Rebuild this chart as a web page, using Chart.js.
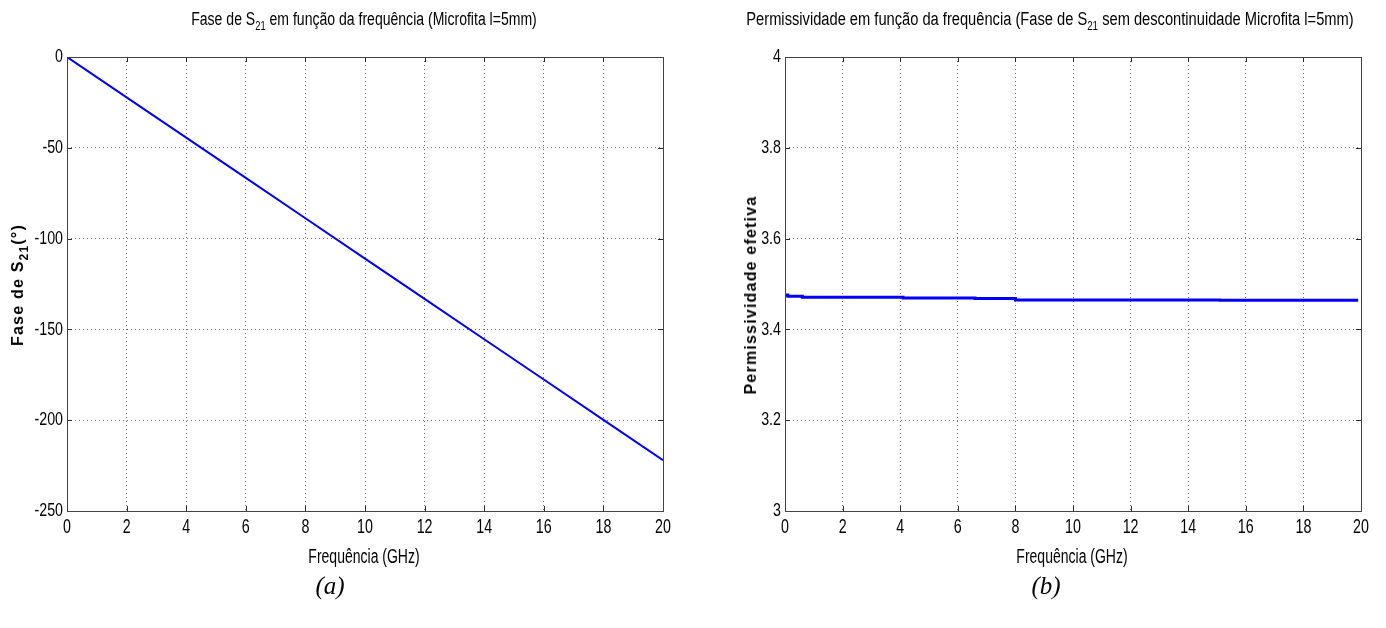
<!DOCTYPE html>
<html>
<head>
<meta charset="utf-8">
<script src="https://cdn.jsdelivr.net/npm/chart.js@4/dist/chart.umd.min.js"></script>
<style>
  body { margin: 0; background: #fff; width: 1386px; height: 628px; overflow: hidden; position: relative; }
  .box { position: absolute; top: 0; }
  .txt { position: absolute; transform: translate(-50%, -50%) scaleX(0.78); white-space: nowrap; color: #000;
         font-family: "Liberation Sans", Arial, sans-serif; font-size: 18px; }
  .xlab { font-size: 20px; transform: translate(-50%, -50%) scaleX(0.7); }
  .ylab { font-weight: bold; font-size: 16px; letter-spacing: 1.2px;
          transform: translate(-50%, -50%) rotate(-90deg); }
  .cap { font-family: "Liberation Serif", "Times New Roman", serif; font-style: italic; font-size: 25px;
         transform: translate(-50%, -50%); }
  sub { font-size: 12px; vertical-align: -5px; line-height: 0; }
</style>
</head>
<body>

<div class="box" style="left:0; width:693px; height:560px;"><canvas id="fase"></canvas></div>
<div class="box" style="left:700px; width:686px; height:560px;"><canvas id="perm"></canvas></div>

<div class="txt" style="left:364px; top:19px;">Fase de S<sub>21</sub> em função da frequência (Microfita l=5mm)</div>
<div class="txt" style="left:1050px; top:19px; transform: translate(-50%, -50%) scaleX(0.815);">Permissividade em função da frequência (Fase de S<sub>21</sub> sem descontinuidade Microfita l=5mm)</div>
<div class="txt xlab" style="left:364px; top:556px;">Frequência (GHz)</div>
<div class="txt xlab" style="left:1072px; top:556px;">Frequência (GHz)</div>
<div class="txt ylab" style="left:18px; top:285px;">Fase de S<sub>21</sub>(°)</div>
<div class="txt ylab" style="left:751px; top:295px;">Permissividade efetiva</div>
<div class="txt cap" style="left:330px; top:586px;">(a)</div>
<div class="txt cap" style="left:1046px; top:586px;">(b)</div>

<script>
// fase de S21 (graus) x frequencia (GHz)
const freqFase = [0, 2, 4, 6, 8, 10, 12, 14, 16, 18, 20];
const fase = [0, -22.2, -44.4, -66.6, -88.8, -111, -133.2, -155.4, -177.6, -199.8, -222];

// permissividade efetiva, em degraus
const freqPerm = [0, 0.1, 0.6, 4.1, 6.6, 8.0, 15.1, 19.9];
const perm = [3.476, 3.473, 3.471, 3.469, 3.468, 3.465, 3.464, 3.464];

const faseTicks = [-250, -200, -150, -100, -50, 0];
const permTicks = [3, 3.2, 3.4, 3.6, 3.8, 4];
const freqTicks = [0, 2, 4, 6, 8, 10, 12, 14, 16, 18, 20];

const xTickFont = '21px "Liberation Sans", Arial, sans-serif';
const yTickFont = '19px "Liberation Sans", Arial, sans-serif';

// texto estreito, como a fonte do matlab
function narrowText(ctx, text, x, y, align, sx) {
  ctx.save();
  ctx.translate(x, y);
  ctx.scale(sx, 1);
  ctx.textAlign = align;
  ctx.fillText(text, 0, 0);
  ctx.restore();
}

// caixa fechada, marcas para dentro e rotulos das escalas
const boxPlugin = {
  id: 'box',
  afterDraw(chart) {
    const { ctx, chartArea: a, scales } = chart;
    const len = 5;
    ctx.save();
    ctx.strokeStyle = '#2b2b2b';
    ctx.lineWidth = 1;
    ctx.beginPath();
    scales.x.ticks.forEach(t => {
      const px = Math.round(scales.x.getPixelForValue(t.value)) + 0.5;
      ctx.moveTo(px, a.bottom); ctx.lineTo(px, a.bottom - len);
      ctx.moveTo(px, a.top); ctx.lineTo(px, a.top + len);
    });
    scales.y.ticks.forEach(t => {
      const py = Math.round(scales.y.getPixelForValue(t.value)) + 0.5;
      ctx.moveTo(a.left, py); ctx.lineTo(a.left + len, py);
      ctx.moveTo(a.right, py); ctx.lineTo(a.right - len, py);
    });
    ctx.stroke();
    ctx.strokeStyle = '#444';
    ctx.strokeRect(Math.round(a.left) + 0.5, Math.round(a.top) + 0.5,
                   Math.round(a.right - a.left), Math.round(a.bottom - a.top));

    ctx.fillStyle = '#000';
    ctx.font = xTickFont;
    ctx.textBaseline = 'top';
    scales.x.ticks.forEach(t => {
      narrowText(ctx, String(t.value), scales.x.getPixelForValue(t.value), a.bottom + 6, 'center', 0.68);
    });
    ctx.font = yTickFont;
    ctx.textBaseline = 'middle';
    scales.y.ticks.forEach(t => {
      narrowText(ctx, String(t.value), a.left - 4, scales.y.getPixelForValue(t.value), 'right', 0.75);
    });
    ctx.restore();
  }
};

function makeChart(id, xs, ys, yTicks, opts) {
  const pts = xs.map((x, i) => ({ x: x, y: ys[i] }));
  return new Chart(document.getElementById(id), {
    type: 'line',
    data: {
      datasets: [{
        data: pts,
        borderColor: '#0000ff',
        borderWidth: opts.width,
        pointRadius: 0,
        stepped: opts.stepped || false,
        tension: 0
      }]
    },
    options: {
      responsive: true,
      maintainAspectRatio: false,
      animation: false,
      layout: { padding: { top: 57, right: opts.right, left: 0, bottom: 0 } },
      plugins: { legend: { display: false }, tooltip: { enabled: false } },
      scales: {
        x: {
          type: 'linear',
          min: 0, max: 20,
          afterBuildTicks: s => { s.ticks = freqTicks.map(v => ({ value: v })); },
          ticks: { display: false },
          grid: { color: '#6e6e6e', lineWidth: 1, drawTicks: false },
          border: { display: false, dash: [1, 3] },
          afterFit: s => { s.height = 49; }
        },
        y: {
          type: 'linear',
          min: yTicks[0], max: yTicks[yTicks.length - 1],
          afterBuildTicks: s => { s.ticks = yTicks.map(v => ({ value: v })); },
          ticks: { display: false },
          grid: { color: '#6e6e6e', lineWidth: 1, drawTicks: false },
          border: { display: false, dash: [1, 3] },
          afterFit: s => { s.width = opts.yw; }
        }
      }
    },
    plugins: [boxPlugin]
  });
}

makeChart('fase', freqFase, fase, faseTicks, { width: 2, right: 30, yw: 67 });
makeChart('perm', freqPerm, perm, permTicks, { width: 3, right: 25, yw: 85, stepped: 'before' });
</script>
</body>
</html>
